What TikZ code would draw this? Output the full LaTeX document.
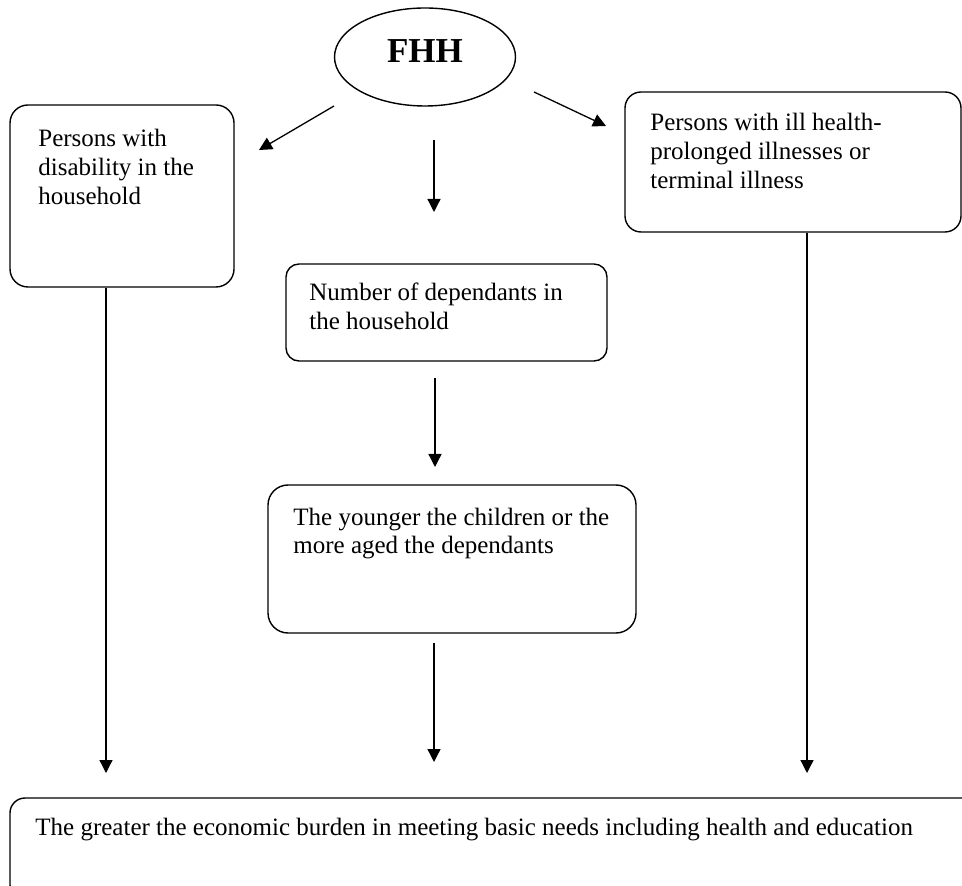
\documentclass[tikz,border=0pt]{standalone}
\usepackage{fontspec}
\setmainfont{Liberation Serif}
\usetikzlibrary{shapes.geometric, arrows.meta, positioning, calc}

\begin{document}
\begin{tikzpicture}[
    x=0.5pt, y=-0.5pt,
    box/.style={draw, rounded corners=#1, line width=0.7pt, inner sep=0pt},
    box/.default=8pt,
    txt/.style={anchor=base west, align=left, inner sep=0pt, font=\fontsize{12.5pt}{14.4pt}\selectfont},
    arrow/.style={-{Triangle[length=6.5pt, width=6.5pt]}, line width=0.65pt}
]
\clip (0,0) rectangle (962,886);

% Head of household
\node[ellipse, draw, line width=0.7pt, minimum width=90.5pt, minimum height=49pt, text depth=6pt, font=\fontsize{17.5pt}{20pt}\selectfont\bfseries] (fhh) at (425,57) {FHH};

% Boxes (text sits at the top left, placed by the baseline of its last line)
\node[box=9pt, minimum width=112pt, minimum height=91pt] (dis) at (122,196) {};
\node[txt] (disText) at (38,204.6) {Persons with\\disability in the\\household};

\node[box=8pt, minimum width=168pt, minimum height=70pt] (ill) at (793,162) {};
\node[txt] (illText) at (650,188.6) {Persons with ill health-\\prolonged illnesses or\\terminal illness};

\node[box=6.5pt, minimum width=160.5pt, minimum height=48.5pt] (num) at (446.5,312.5) {};
\node[txt] (numText) at (309,329.8) {Number of dependants in\\the household};

\node[box=10pt, minimum width=184pt, minimum height=74pt] (age) at (452,559) {};
\node[txt] (ageText) at (293,553.8) {The younger the children or the\\more aged the dependants};

\node[box=7.5pt, minimum width=485pt, minimum height=51pt] (burden) at (495,849) {};
\node[txt] (burdenText) at (35,835) {The greater the economic burden in meeting basic needs including health and education};

% Arrow ends (the arrows stop short of the boxes)
\coordinate (fhhL) at (334,106);
\coordinate (disTip) at (259,150);
\coordinate (fhhR) at (534,92);
\coordinate (illTip) at (606,126);
\coordinate (fhhD) at (434,140);
\coordinate (numTip) at (434,212);
\coordinate (numD) at (435,378);
\coordinate (ageTip) at (435,467);
\coordinate (ageD) at (434,643);
\coordinate (midTip) at (434,762);
\coordinate (leftTip) at (106,773);
\coordinate (rightTip) at (807,773);

% Arrows
\draw[arrow] (fhhL) -- (disTip);
\draw[arrow] (fhhR) -- (illTip);
\draw[arrow] (fhhD) -- (numTip);
\draw[arrow] (numD) -- (ageTip);
\draw[arrow] (ageD) -- (midTip);
\draw[arrow] (dis.south -| leftTip) -- (leftTip);
\draw[arrow] (ill.south -| rightTip) -- (rightTip);

\end{tikzpicture}
\end{document}
